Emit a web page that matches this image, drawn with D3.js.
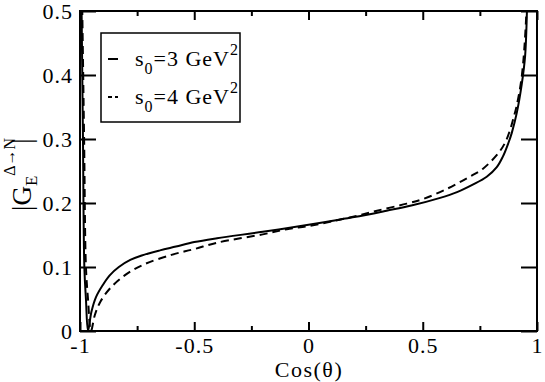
<!DOCTYPE html>
<html>
<head>
<meta charset="utf-8">
<script src="https://cdn.jsdelivr.net/npm/d3@7"></script>
<style>
  body { margin: 0; background: #fff; }
  svg { display: block; font-family: "Liberation Serif", "DejaVu Serif", serif; }
  svg text { font-family: "Liberation Serif", "DejaVu Serif", serif !important; }
</style>
</head>
<body>
<svg id="chart" width="545" height="382"></svg>
<script>
// cos(theta) and |G_E|
var cos3 = [-1.0, -0.993, -0.987, -0.981, -0.974, -0.965, -0.95, -0.93, -0.9, -0.87, -0.83, -0.78, -0.73, -0.65, -0.58, -0.5,
            -0.4, -0.2, 0, 0.1, 0.2, 0.342, 0.45, 0.576, 0.65, 0.721, 0.78, 0.824, 0.85, 0.874, 0.89, 0.911, 0.933, 0.948, 0.956, 0.965]
var g3   = [0.75, 0.5, 0.3, 0.1, 0.05, 0.0, 0.03, 0.053, 0.072, 0.087, 0.1, 0.111, 0.118, 0.126, 0.132, 0.139,
            0.145, 0.155, 0.166, 0.172, 0.178, 0.188, 0.196, 0.208, 0.217, 0.229, 0.241, 0.256, 0.272, 0.293, 0.31, 0.34, 0.385, 0.43, 0.5, 0.65]

var cos4 = [-1.0, -0.99, -0.982, -0.974, -0.965, -0.952, -0.935, -0.912, -0.87, -0.8, -0.72, -0.6, -0.5,
            -0.4, -0.2, -0.095, 0, 0.1, 0.2, 0.3, 0.43, 0.5, 0.605, 0.7, 0.765, 0.831, 0.86, 0.882, 0.895, 0.911, 0.933, 0.952, 0.96]
var g4   = [0.75, 0.5, 0.3, 0.1, 0.05, 0.0, 0.025, 0.045, 0.066, 0.088, 0.104, 0.119, 0.128,
            0.138, 0.151, 0.159, 0.164, 0.171, 0.179, 0.188, 0.199, 0.206, 0.222, 0.240, 0.254, 0.278, 0.294, 0.314, 0.33, 0.352, 0.397, 0.486, 0.6]

var xTicks = [-1, -0.5, 0, 0.5, 1]
var xMinor = [-0.75, -0.25, 0.25, 0.75]
var yTicks = [0, 0.1, 0.2, 0.3, 0.4, 0.5]

var svg = d3.select("#chart")
var pLeft = 80, pRight = 537, pTop = 11, pBottom = 331

var x = d3.scaleLinear().domain([-1, 1]).range([pLeft, pRight])
var y = d3.scaleLinear().domain([0, 0.5]).range([pBottom, pTop])

var fmt = function(d) { return String(d) }

// bottom axis
var gb = svg.append("g").attr("transform", "translate(0," + pBottom + ")")
    .call(d3.axisBottom(x).tickValues(xTicks).tickSize(-9).tickPadding(6).tickFormat(fmt))
gb.append("g").call(d3.axisBottom(x).tickValues(xMinor).tickSize(-5).tickFormat(""))

// top axis
var gt = svg.append("g").attr("transform", "translate(0," + pTop + ")")
    .call(d3.axisTop(x).tickValues(xTicks).tickSize(-9).tickFormat(""))
gt.append("g").call(d3.axisTop(x).tickValues(xMinor).tickSize(-5).tickFormat(""))

// left / right axes
svg.append("g").attr("transform", "translate(" + pLeft + ",0)")
    .call(d3.axisLeft(y).tickValues(yTicks).tickSize(-16).tickPadding(7).tickFormat(fmt))
svg.append("g").attr("transform", "translate(" + pRight + ",0)")
    .call(d3.axisRight(y).tickValues(yTicks).tickSize(-16).tickFormat(""))

svg.selectAll(".domain").remove()
svg.selectAll("g").attr("font-family", null)
svg.selectAll(".tick line").attr("stroke", "#000").attr("stroke-width", 2)
svg.selectAll(".tick text")
    .style("font-family", "'Liberation Serif', serif")
    .attr("font-size", 22).attr("letter-spacing", 1).attr("fill", "#000")

// curves
svg.append("clipPath").attr("id", "clip")
    .append("rect").attr("x", pLeft).attr("y", pTop).attr("width", pRight - pLeft).attr("height", pBottom - pTop)

var line = d3.line()
    .x(function(d) { return x(d[0]) })
    .y(function(d) { return y(d[1]) })
    .curve(d3.curveCatmullRom.alpha(0.5))

svg.append("path")
    .datum(d3.zip(cos3, g3))
    .attr("clip-path", "url(#clip)")
    .attr("fill", "none").attr("stroke", "#000").attr("stroke-width", 2)
    .attr("d", line)

svg.append("path")
    .datum(d3.zip(cos4, g4))
    .attr("clip-path", "url(#clip)")
    .attr("fill", "none").attr("stroke", "#000").attr("stroke-width", 2)
    .attr("stroke-dasharray", "8,5")
    .attr("d", line)

// frame
svg.append("rect")
    .attr("x", pLeft).attr("y", pTop).attr("width", pRight - pLeft).attr("height", pBottom - pTop)
    .attr("fill", "none").attr("stroke", "#000").attr("stroke-width", 2)

// legend
svg.append("rect")
    .attr("x", 101).attr("y", 33).attr("width", 139).attr("height", 89)
    .attr("fill", "#fff").attr("stroke", "#000").attr("stroke-width", 1.5)

var legend = [{s: "3", dash: null, yy: 66}, {s: "4", dash: "4,3", yy: 104}]
legend.forEach(function(d) {
    svg.append("line")
        .attr("x1", 108).attr("x2", 118).attr("y1", d.yy - 7).attr("y2", d.yy - 7)
        .attr("stroke", "#000").attr("stroke-width", 2)
        .attr("stroke-dasharray", d.dash)
    var t = svg.append("text").attr("x", 135).attr("y", d.yy).attr("font-size", 22)
        .attr("letter-spacing", 1)
    t.append("tspan").text("s")
    t.append("tspan").attr("font-size", 16).attr("dy", 8).text("0")
    t.append("tspan").attr("dy", -8).text("=" + d.s + " GeV")
    t.append("tspan").attr("font-size", 16).attr("dy", -11).text("2")
})

// axis titles
svg.append("text").attr("x", 309).attr("y", 377).attr("text-anchor", "middle")
    .attr("font-size", 22).attr("letter-spacing", 1.5).text("Cos(θ)")

var yl = svg.append("text").attr("transform", "translate(31,211) rotate(-90)")
    .attr("font-size", 27)
yl.append("tspan").text("|G")
yl.append("tspan").attr("font-size", 17).attr("dy", 6).text("E")
yl.append("tspan").attr("font-size", 16).attr("dy", -22).text("Δ→N")
yl.append("tspan").attr("dy", 16).attr("dx", -6).text("|")
</script>
</body>
</html>
